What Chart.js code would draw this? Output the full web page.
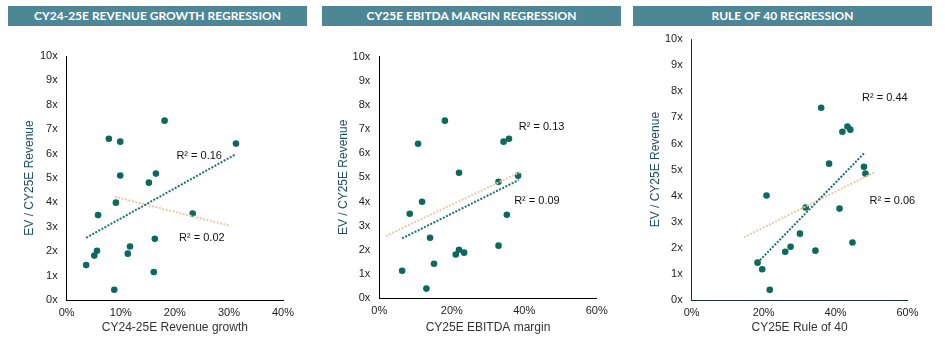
<!DOCTYPE html>
<html>
<head>
<meta charset="utf-8">
<script src="https://cdn.jsdelivr.net/npm/chart.js@4.4.1/dist/chart.umd.min.js"></script>
<style>
  body { margin: 0; background: #fff; width: 945px; height: 346px; position: relative; overflow: hidden; }
  .bar { position: absolute; top: 6px; height: 20px; background: #4d8796; color: #fff;
         font-family: 'Lato', sans-serif; font-weight: 700; font-size: 12px; line-height: 20px; text-align: center; }
  canvas { position: absolute; top: 0; }
</style>
</head>
<body>
<div class="bar" style="left:8px;width:299px">CY24-25E REVENUE GROWTH REGRESSION</div>
<div class="bar" style="left:322px;width:299px">CY25E EBITDA MARGIN REGRESSION</div>
<div class="bar" style="left:633px;width:299px">RULE OF 40 REGRESSION</div>
<canvas id="growthChart" width="315" height="346" style="left:0"></canvas>
<canvas id="marginChart" width="315" height="346" style="left:315px"></canvas>
<canvas id="rule40Chart" width="315" height="346" style="left:630px"></canvas>
<script>
// EV / CY25E revenue vs. each driver (x in %)
const growthX = [3.6, 5.1, 5.6, 5.8, 7.8, 8.8, 9.1, 9.9, 9.9, 11.3, 11.7, 15.2, 16.1, 16.3, 16.5, 18.1, 23.3, 31.3];
const growthY = [1.43, 1.82, 2.02, 3.48, 6.61, 0.42, 3.99, 6.49, 5.10, 1.90, 2.19, 4.81, 1.15, 2.51, 5.18, 7.35, 3.54, 6.41];

const marginX = [6.3, 8.4, 10.7, 11.8, 13.0, 14.0, 15.1, 18.1, 21.1, 22.0, 22.0, 23.4, 32.9, 32.9, 34.3, 35.2, 35.8, 38.3];
const marginY = [1.13, 3.49, 6.39, 3.99, 0.39, 2.50, 1.42, 7.35, 1.80, 5.19, 2.00, 1.88, 2.17, 4.82, 6.48, 3.45, 6.60, 5.07];

const rule40X = [18.3, 19.6, 21.7, 20.8, 26.0, 27.5, 30.1, 31.7, 34.4, 36.0, 38.2, 41.1, 41.9, 43.3, 44.1, 44.7, 47.9, 48.3];
const rule40Y = [1.44, 1.19, 0.40, 4.01, 1.86, 2.05, 2.55, 3.55, 1.90, 7.37, 5.23, 3.51, 6.45, 6.65, 6.53, 2.21, 5.11, 4.85];

// trendline endpoints (teal = plotted set, beige = comparison set)
const growthTrendX = [3.6, 31.3];
const growthTrendY = [2.55, 5.98];
const growthAltTrendX = [8.9, 30.3];
const growthAltTrendY = [4.23, 3.04];
const marginTrendX = [6.3, 38.5];
const marginTrendY = [2.47, 4.89];
const marginAltTrendX = [1.8, 39.5];
const marginAltTrendY = [2.57, 5.26];
const rule40TrendX = [18.3, 48.1];
const rule40TrendY = [1.44, 5.65];
const rule40AltTrendX = [14.5, 51.1];
const rule40AltTrendY = [2.41, 4.92];

const yTicks = [0, 1, 2, 3, 4, 5, 6, 7, 8, 9, 10];

const FONT = "'Liberation Sans', Arial, sans-serif";
const pts = (xs, ys) => xs.map((x, i) => ({ x, y: ys[i] }));

const r2Labels = {
  id: 'r2Labels',
  afterDraw(chart, args, opts) {
    const { ctx, scales } = chart;
    ctx.save();
    ctx.font = '11px ' + FONT;
    ctx.fillStyle = '#111';
    ctx.textAlign = 'center';
    ctx.textBaseline = 'middle';
    (opts.items || []).forEach((it) => {
      ctx.fillText(it.text, scales.x.getPixelForValue(it.x), scales.y.getPixelForValue(it.y));
    });
    ctx.restore();
  }
};

function makeChart(id, cfg) {
  const trend = (xs, ys, color) => ({
    type: 'line', data: pts(xs, ys), borderColor: color, borderWidth: 2,
    borderDash: [2, 1.5], pointRadius: 0, fill: false, order: 1
  });
  return new Chart(document.getElementById(id), {
    type: 'scatter',
    data: {
      datasets: [
        { data: pts(cfg.x, cfg.y), backgroundColor: '#0c6a5c', borderWidth: 0, pointRadius: 3.3, order: 2 },
        trend(cfg.trendX, cfg.trendY, '#1f6f70'),
        trend(cfg.altX, cfg.altY, '#ecc9a6')
      ]
    },
    options: {
      responsive: false,
      animation: false,
      layout: { padding: { left: 0, right: cfg.right, top: cfg.top, bottom: 0 } },
      plugins: { legend: { display: false }, tooltip: { enabled: false }, r2Labels: { items: cfg.labels } },
      scales: {
        x: {
          min: 0, max: cfg.xMax,
          ticks: { stepSize: cfg.xStep, padding: 6, color: '#222', font: { family: FONT, size: 11 }, callback: (v) => v + '%' },
          grid: { display: false, drawTicks: false },
          border: { display: true, color: cfg.axisColor, width: 1 },
          title: { display: true, text: cfg.xTitle, color: '#333', font: { family: FONT, size: 12 }, padding: { top: 0, bottom: 11 } },
          afterFit: (s) => { s.height = cfg.xHeight; }
        },
        y: {
          min: 0, max: 10,
          afterBuildTicks: (s) => { s.ticks = yTicks.map((v) => ({ value: v })); },
          ticks: { padding: 9, color: '#222', font: { family: FONT, size: 11 }, callback: (v) => v + 'x' },
          grid: { display: false, drawTicks: false },
          border: { display: true, color: cfg.axisColor, width: 1 },
          title: { display: true, text: 'EV / CY25E Revenue', color: '#1f4f63', font: { family: FONT, size: 12 }, padding: { top: cfg.yTitlePad, bottom: 0 } },
          afterFit: (s) => { s.width = cfg.yWidth; }
        }
      }
    },
    plugins: [r2Labels]
  });
}

makeChart('growthChart', {
  x: growthX, y: growthY, trendX: growthTrendX, trendY: growthTrendY, altX: growthAltTrendX, altY: growthAltTrendY,
  xMax: 40, xStep: 10, xTitle: 'CY24-25E Revenue growth', axisColor: '#000',
  yWidth: 66.7, right: 32, top: 56, xHeight: 46, yTitlePad: 22,
  labels: [{ text: 'R² = 0.16', x: 24.5, y: 5.9 }, { text: 'R² = 0.02', x: 25.0, y: 2.55 }]
});

makeChart('marginChart', {
  x: marginX, y: marginY, trendX: marginTrendX, trendY: marginTrendY, altX: marginAltTrendX, altY: marginAltTrendY,
  xMax: 60, xStep: 20, xTitle: 'CY25E EBITDA margin', axisColor: '#000',
  yWidth: 64.3, right: 33.3, top: 56.7, xHeight: 48, yTitlePad: 21,
  labels: [{ text: 'R² = 0.13', x: 44.8, y: 7.07 }, { text: 'R² = 0.09', x: 43.5, y: 4.03 }]
});

makeChart('rule40Chart', {
  x: rule40X, y: rule40Y, trendX: rule40TrendX, trendY: rule40TrendY, altX: rule40AltTrendX, altY: rule40AltTrendY,
  xMax: 60, xStep: 20, xTitle: 'CY25E Rule of 40', axisColor: '#1b2f3a',
  yWidth: 61.7, right: 37.5, top: 39, xHeight: 45.7, yTitlePad: 18,
  labels: [{ text: 'R² = 0.44', x: 53.7, y: 7.75 }, { text: 'R² = 0.06', x: 55.8, y: 3.81 }]
});
</script>
</body>
</html>
